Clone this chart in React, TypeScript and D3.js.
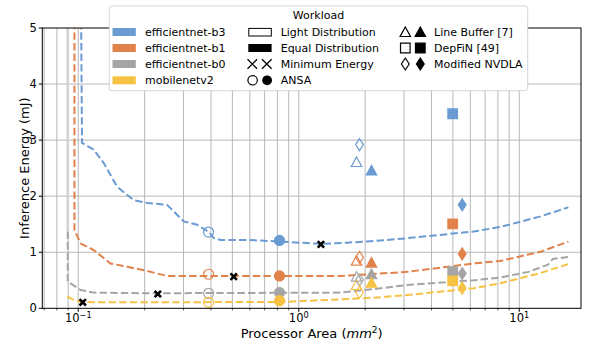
import React from "react";
import * as d3 from "d3";

const seriesNames = ["efficientnet-b3", "efficientnet-b1", "efficientnet-b0", "mobilenetv2"];
const seriesColors = ["#6a9bd3", "#e0824a", "#a5a5a5", "#f6c243"];

// sweep curves (area in mm^2, energy in mJ)
const b3Area = [0.103, 0.104, 0.1175, 0.1306, 0.15, 0.1667, 0.1786, 0.2053, 0.253, 0.301, 0.346, 0.391, 0.4115, 0.4415, 0.583, 0.826, 1.254, 1.658, 2.347, 3.1, 6.22, 8.2, 12.5, 16.7];
const b3Energy = [5.3, 2.95, 2.83, 2.59, 2.17, 2.02, 1.93, 1.88, 1.845, 1.55, 1.49, 1.36, 1.25, 1.22, 1.22, 1.19, 1.15, 1.17, 1.21, 1.25, 1.37, 1.45, 1.64, 1.8];
const b1Area = [0.0961, 0.0961, 0.1023, 0.1175, 0.14, 0.1667, 0.198, 0.253, 0.384, 1.545, 3.1, 6.22, 8.2, 12.5, 16.7];
const b1Energy = [5.3, 1.4, 1.16, 1.04, 0.8, 0.74, 0.68, 0.577, 0.577, 0.577, 0.65, 0.8, 0.845, 1.01, 1.19];
const b0Area = [0.0896, 0.0896, 0.1025, 0.1175, 0.205, 1.545, 2.35, 3.1, 6.22, 8.2, 11, 13.5, 14.2, 17.1];
const b0Energy = [1.37, 0.475, 0.327, 0.28, 0.268, 0.28, 0.357, 0.416, 0.5, 0.55, 0.65, 0.78, 0.88, 0.92];
const mbArea = [0.0891, 0.0956, 0.1025, 0.1175, 0.826, 1.545, 2.35, 3.1, 6.22, 8.2, 12.5, 16.7];
const mbEnergy = [0.207, 0.148, 0.118, 0.107, 0.112, 0.16, 0.196, 0.237, 0.357, 0.446, 0.63, 0.79];
const b0WallArea = [0.0896, 0.0896];
const b0WallEnergy = [1.37, 5.3];

// design points, one value per series (b3, b1, b0, mobilenetv2)
const ansaLightArea = [0.39, 0.39, 0.39, 0.39];
const ansaLightEnergy = [1.36, 0.607, 0.268, 0.107];
const ansaEqualArea = [0.818, 0.818, 0.818, 0.818];
const ansaEqualEnergy = [1.21, 0.577, 0.28, 0.136];
const lbLightArea = [1.827, 1.827, 1.827, 1.827];
const lbLightEnergy = [2.61, 0.85, 0.565, 0.416];
const lbEqualArea = [2.137, 2.137, 2.137, 2.137];
const lbEqualEnergy = [2.46, 0.815, 0.61, 0.457];
const nvLightArea = [1.885, 1.885, 1.885, 1.885];
const nvLightEnergy = [2.92, 0.91, 0.505, 0.286];
const nvEqualArea = [5.51, 5.51, 5.51, 5.51];
const nvEqualEnergy = [1.845, 0.97, 0.62, 0.36];
const depfinArea = [4.99, 4.99, 4.99, 4.99];
const depfinEnergy = [3.47, 1.505, 0.654, 0.49];
const minEnergyArea = [0.1048, 0.2295, 0.507, 1.26];
const minEnergyValue = [0.107, 0.255, 0.565, 1.14];

const yTicks = [0, 1, 2, 3, 4, 5];
const xMajor = [0.1, 1, 10];
const xMajorExp = ["\u22121", "0", "1"];

const W = 595;
const H = 345;
const left = 42.3, right = 581, top = 28, bottom = 308.3;
const font = "DejaVu Sans, sans-serif";

function markerPath(shape: string, cx: number, cy: number) {
  if (shape === "tri") return `M${cx},${cy - 5}L${cx + 5.2},${cy + 4.5}L${cx - 5.2},${cy + 4.5}Z`;
  if (shape === "sq") return `M${cx - 4.8},${cy - 4.8}h9.6v9.6h-9.6Z`;
  if (shape === "dia") return `M${cx},${cy - 6}L${cx + 3.9},${cy}L${cx},${cy + 6}L${cx - 3.9},${cy}Z`;
  return "";
}

function Marker({ shape, cx, cy, color, filled }: { shape: string; cx: number; cy: number; color: string; filled: boolean }) {
  if (shape === "circle")
    return <circle cx={cx} cy={cy} r={5} fill={filled ? color : "none"} stroke={color} strokeWidth={1.2} />;
  if (shape === "x")
    return (
      <path d={`M${cx - 3.2},${cy - 3.2}L${cx + 3.2},${cy + 3.2}M${cx - 3.2},${cy + 3.2}L${cx + 3.2},${cy - 3.2}`} stroke={color} strokeWidth={2.6} />
    );
  return <path d={markerPath(shape, cx, cy)} fill={filled ? color : "none"} stroke={color} strokeWidth={1.2} />;
}

export default function App() {
  const x = d3.scaleLog().domain([0.0687, 19.05]).range([left, right]);
  const y = d3.scaleLinear().domain([0, 5]).range([bottom, top]);
  const xMinor = x.ticks().filter((t) => x(t) > left + 0.5 && x(t) < right - 0.5);

  const line = d3
    .line<[number, number]>()
    .x((d) => x(d[0]))
    .y((d) => y(d[1]));
  const zip = (a: number[], b: number[]) => a.map((v, i) => [v, b[i]] as [number, number]);
  const curves = [zip(b3Area, b3Energy), zip(b1Area, b1Energy), zip(b0Area, b0Energy), zip(mbArea, mbEnergy)];

  const groups = [
    { shape: "circle", filled: false, a: ansaLightArea, e: ansaLightEnergy },
    { shape: "circle", filled: true, a: ansaEqualArea, e: ansaEqualEnergy },
    { shape: "tri", filled: false, a: lbLightArea, e: lbLightEnergy },
    { shape: "dia", filled: false, a: nvLightArea, e: nvLightEnergy },
    { shape: "tri", filled: true, a: lbEqualArea, e: lbEqualEnergy },
    { shape: "sq", filled: true, a: depfinArea, e: depfinEnergy },
    { shape: "dia", filled: true, a: nvEqualArea, e: nvEqualEnergy },
  ];

  const rowY = [32, 48, 64, 80.3];
  const col2 = ["Light Distribution", "Equal Distribution", "Minimum Energy", "ANSA"];
  const col3 = ["Line Buffer [7]", "DepFiN [49]", "Modified NVDLA"];
  const col3Shapes = ["tri", "sq", "dia"];

  return (
    <svg width={W} height={H} style={{ position: "absolute", left: 0, top: 0 }} fontFamily={font}>
      <defs>
        <clipPath id="plot">
          <rect x={left} y={top} width={right - left} height={bottom - top} />
        </clipPath>
      </defs>
      <rect width={W} height={H} fill="white" />

      {/* grid */}
      <g stroke="#b0b0b0" strokeWidth={0.9}>
        {xMinor.map((t) => (
          <line key={"gx" + t} x1={x(t)} x2={x(t)} y1={top} y2={bottom} />
        ))}
        {yTicks.slice(1, 5).map((t) => (
          <line key={"gy" + t} x1={left} x2={right} y1={y(t)} y2={y(t)} />
        ))}
      </g>

      {/* curves */}
      <g clipPath="url(#plot)" fill="none">
        <path d={line(zip(b0WallArea, b0WallEnergy)) || ""} stroke="#d3d3d3" strokeWidth={2.6} />
        {curves.map((c, i) => (
          <path key={i} d={line(c) || ""} stroke={seriesColors[i]} strokeWidth={2} strokeDasharray="7.4,3.2" />
        ))}
      </g>

      {/* design points */}
      {groups.map((g, gi) =>
        g.a.map((a, i) => (
          <Marker key={gi + "-" + i} shape={g.shape} filled={g.filled} cx={x(a)} cy={y(g.e[i])} color={seriesColors[i]} />
        ))
      )}
      {minEnergyArea.map((a, i) => (
        <Marker key={"me" + i} shape="x" filled cx={x(a)} cy={y(minEnergyValue[i])} color="black" />
      ))}

      {/* axes */}
      <rect x={left} y={top} width={right - left} height={bottom - top} fill="none" stroke="black" strokeWidth={1} />
      <g stroke="black">
        {yTicks.map((t) => (
          <line key={"ty" + t} x1={left - 3.5} x2={left} y1={y(t)} y2={y(t)} />
        ))}
        {xMinor.map((t) => (
          <line key={"tx" + t} x1={x(t)} x2={x(t)} y1={bottom} y2={bottom + (xMajor.includes(t) ? 3.5 : 2)} strokeWidth={xMajor.includes(t) ? 1 : 0.7} />
        ))}
      </g>
      <g fontSize={11.5} fill="#000">
        {yTicks.map((t) => (
          <text key={"ly" + t} x={left - 5.5} y={y(t) + 4.1} textAnchor="end">
            {t}
          </text>
        ))}
        {xMajor.map((t, i) => (
          <text key={"lx" + t} x={x(t)} y={bottom + 14} textAnchor="middle">
            10
            <tspan fontSize={8.2} dy={-4.5}>
              {xMajorExp[i]}
            </tspan>
          </text>
        ))}
      </g>
      <text x={(left + right) / 2} y={338} textAnchor="middle" fontSize={13}>
        Processor Area (<tspan fontStyle="italic">mm</tspan>
        <tspan fontSize={9} dy={-5}>2</tspan>
        <tspan dy={5}>)</tspan>
      </text>
      <text transform={`translate(28.5,${(top + bottom) / 2}) rotate(-90)`} textAnchor="middle" fontSize={13}>
        Inference Energy (mJ)
      </text>

      {/* legend */}
      <g fontSize={11}>
        <rect x={109.3} y={6} width={418.4} height={84.7} rx={2.5} fill="white" stroke="#d6d6d6" strokeWidth={1} />
        <text x={318.5} y={19} textAnchor="middle">
          Workload
        </text>
        {seriesNames.map((n, i) => (
          <g key={n}>
            <rect x={112.5} y={rowY[i] - 4} width={23.3} height={8} fill={seriesColors[i]} />
            <text x={145} y={rowY[i] + 4}>
              {n}
            </text>
          </g>
        ))}
        <rect x={248.8} y={rowY[0] - 3.6} width={22.5} height={7.6} fill="none" stroke="black" strokeWidth={1} />
        <rect x={248.3} y={rowY[1] - 4} width={23.3} height={8} fill="black" />
        {[252.3, 266.8].map((cx) => (
          <path key={cx} d={`M${cx - 4.8},${rowY[2] - 4.8}L${cx + 4.8},${rowY[2] + 4.8}M${cx - 4.8},${rowY[2] + 4.8}L${cx + 4.8},${rowY[2] - 4.8}`} stroke="black" strokeWidth={1.3} />
        ))}
        <circle cx={252.6} cy={rowY[3]} r={4.7} fill="none" stroke="black" strokeWidth={1.2} />
        <circle cx={267.1} cy={rowY[3]} r={4.9} fill="black" />
        {col2.map((t, i) => (
          <text key={t} x={280.7} y={rowY[i] + 4}>
            {t}
          </text>
        ))}
        {col3Shapes.map((s, i) => (
          <g key={s}>
            <Marker shape={s} cx={405.3} cy={rowY[i]} color="black" filled={false} />
            <Marker shape={s} cx={420.3} cy={rowY[i]} color="black" filled />
          </g>
        ))}
        {col3.map((t, i) => (
          <text key={t} x={434} y={rowY[i] + 4}>
            {t}
          </text>
        ))}
      </g>
    </svg>
  );
}
